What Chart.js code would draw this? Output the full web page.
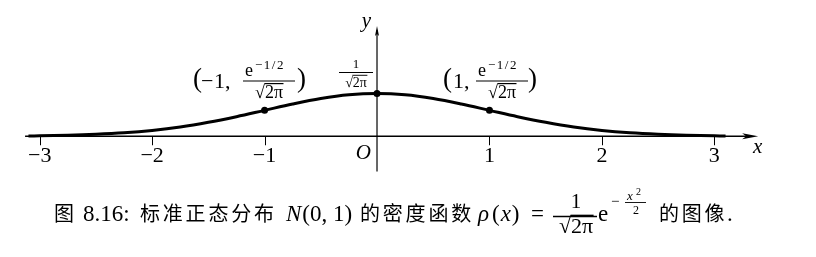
<!DOCTYPE html>
<html>
<head>
<meta charset="utf-8">
<script src="https://cdn.jsdelivr.net/npm/chart.js@4.4.0/dist/chart.umd.min.js"></script>
<style>
  html, body { margin: 0; padding: 0; background: #fff; }
  #wrap { width: 816px; height: 257px; }
</style>
</head>
<body>
<div id="wrap"><canvas id="densityChart" width="816" height="257"></canvas></div>
<script>
// curve values
const xVals = [-3.1, -3, -2.75, -2.5, -2.25, -2, -1.75, -1.5, -1.25, -1, -0.75, -0.5, -0.25, 0,
               0.25, 0.5, 0.75, 1, 1.25, 1.5, 1.75, 2, 2.25, 2.5, 2.75, 3, 3.1];
const yVals = [0.003, 0.004, 0.009, 0.018, 0.032, 0.054, 0.086, 0.130, 0.183, 0.242, 0.301, 0.352, 0.387, 0.399,
               0.387, 0.352, 0.301, 0.242, 0.183, 0.130, 0.086, 0.054, 0.032, 0.018, 0.009, 0.004, 0.003];
// marked points
const markX = [-1, 0, 1];
const markY = [0.242, 0.399, 0.242];
// x axis ticks
const tickVals = [-3, -2, -1, 1, 2, 3];
const tickLabels = ['\u22123', '\u22122', '\u22121', '1', '2', '3'];

const SERIF = '"Liberation Serif", "DejaVu Serif", serif';
const CJK = '"Noto Sans CJK SC", sans-serif';

function txt(ctx, s, x, y, font, align) {
  ctx.font = font;
  ctx.textAlign = align || 'left';
  ctx.textBaseline = 'alphabetic';
  ctx.fillText(s, x, y);
  return ctx.measureText(s).width;
}

function hline(ctx, x1, x2, y, lw) {
  ctx.beginPath();
  ctx.lineWidth = lw;
  ctx.moveTo(x1, y);
  ctx.lineTo(x2, y);
  ctx.stroke();
}

// draws "√2π" centred on cx
function sqrt2pi(ctx, cx, base, size) {
  ctx.font = size + 'px ' + SERIF;
  ctx.textAlign = 'left';
  const wr = ctx.measureText('\u221A').width;
  const wb = ctx.measureText('2\u03C0').width;
  const x0 = cx - (wr + wb) / 2;
  ctx.fillText('\u221A', x0, base);
  ctx.fillText('2\u03C0', x0 + wr, base);
  hline(ctx, x0 + wr - 0.5, x0 + wr + wb + 0.5, base - size * 0.8, Math.max(0.9, size / 15));
}

// numerator e^{-1/2} over √2π
function halfFrac(ctx, cx, lineY) {
  txt(ctx, 'e', cx - 24, lineY - 5, '18px ' + SERIF);
  ctx.letterSpacing = '1.5px';
  txt(ctx, '\u22121/2', cx - 14, lineY - 12, '13px ' + SERIF);
  ctx.letterSpacing = '0px';
  hline(ctx, cx - 26, cx + 26, lineY, 1.2);
  sqrt2pi(ctx, cx, lineY + 17, 18);
}

const axesPlugin = {
  id: 'axesPlugin',
  beforeDatasetsDraw(chart) {
    const ctx = chart.ctx;
    const xs = chart.scales.x, ys = chart.scales.y;
    const y0 = ys.getPixelForValue(0);
    const x0 = xs.getPixelForValue(0);
    ctx.save();
    ctx.strokeStyle = '#000';
    ctx.fillStyle = '#000';
    // x axis
    const xl = xs.getPixelForValue(-3.13), xr = xs.getPixelForValue(3.39);
    hline(ctx, xl, xr - 8, y0, 1.5);
    ctx.beginPath();
    ctx.moveTo(xr, y0);
    ctx.lineTo(xr - 16, y0 - 3);
    ctx.lineTo(xr - 12, y0);
    ctx.lineTo(xr - 16, y0 + 3);
    ctx.closePath();
    ctx.fill();
    // y axis
    const yt = ys.getPixelForValue(1.03), yb = ys.getPixelForValue(-0.33);
    ctx.beginPath();
    ctx.lineWidth = 1.2;
    ctx.moveTo(x0, yb);
    ctx.lineTo(x0, yt + 4);
    ctx.stroke();
    ctx.beginPath();
    ctx.moveTo(x0, yt);
    ctx.lineTo(x0 - 2, yt + 10);
    ctx.lineTo(x0, yt + 8);
    ctx.lineTo(x0 + 2, yt + 10);
    ctx.closePath();
    ctx.fill();
    // ticks
    ctx.lineWidth = 1;
    tickVals.forEach(v => {
      const px = Math.round(xs.getPixelForValue(v)) + 0.5;
      ctx.beginPath();
      ctx.moveTo(px, y0);
      ctx.lineTo(px, y0 + 9);
      ctx.stroke();
    });
    ctx.restore();
  },
  afterDraw(chart) {
    const ctx = chart.ctx;
    const xs = chart.scales.x, ys = chart.scales.y;
    const y0 = ys.getPixelForValue(0);
    const x0 = xs.getPixelForValue(0);
    ctx.save();
    ctx.fillStyle = '#000';
    ctx.strokeStyle = '#000';
    // tick labels
    tickVals.forEach((v, i) => {
      txt(ctx, tickLabels[i], xs.getPixelForValue(v), y0 + 26, '22px ' + SERIF, 'center');
    });
    txt(ctx, 'O', x0 - 6, y0 + 23, 'italic 21px ' + SERIF, 'right');
    txt(ctx, 'x', 753, y0 + 17, 'italic 21px ' + SERIF);
    txt(ctx, 'y', x0 - 6, 27, 'italic 21px ' + SERIF, 'right');

    // peak label 1/√2π
    const pk = xs.getPixelForValue(0) - 21;
    txt(ctx, '1', pk, 68, '13px ' + SERIF, 'center');
    hline(ctx, pk - 17, pk + 17, 72.5, 1.1);
    sqrt2pi(ctx, pk, 86.5, 14);

    // (−1, e^{-1/2}/√2π)
    txt(ctx, '(', 193, 87, '27px ' + SERIF);
    txt(ctx, '\u2212', 201, 88, '22px ' + SERIF);
    txt(ctx, '1,', 214, 88, '22px ' + SERIF);
    halfFrac(ctx, 269, 81);
    txt(ctx, ')', 297, 87, '27px ' + SERIF);

    // (1, e^{-1/2}/√2π)
    txt(ctx, '(', 443, 87, '27px ' + SERIF);
    txt(ctx, '1,', 453, 88, '22px ' + SERIF);
    halfFrac(ctx, 502, 81);
    txt(ctx, ')', 528, 87, '27px ' + SERIF);

    // caption
    const base = 221;
    txt(ctx, '\u56FE', 54, base, '20px ' + CJK);
    txt(ctx, '8.16:', 83, base, '23px ' + SERIF);
    ctx.letterSpacing = '2.8px';
    txt(ctx, '\u6807\u51C6\u6B63\u6001\u5206\u5E03', 140, base, '20px ' + CJK);
    ctx.letterSpacing = '0px';
    const w = txt(ctx, 'N', 286, base, 'italic 23px ' + SERIF);
    txt(ctx, '(0, 1)', 286 + w + 1, base, '23px ' + SERIF);
    ctx.letterSpacing = '2.8px';
    txt(ctx, '\u7684\u5BC6\u5EA6\u51FD\u6570', 360, base, '20px ' + CJK);
    ctx.letterSpacing = '0px';
    txt(ctx, '\u03C1', 478, base, 'italic 23px ' + SERIF);
    let cx = 492;
    cx += txt(ctx, '(', cx, base, '23px ' + SERIF) + 1;
    cx += txt(ctx, 'x', cx, base, 'italic 23px ' + SERIF) + 1;
    txt(ctx, ')', cx, base, '23px ' + SERIF);
    txt(ctx, '=', 531, base, '23px ' + SERIF);
    txt(ctx, '1', 576, 208, '21px ' + SERIF, 'center');
    hline(ctx, 553, 597, 216.5, 1.3);
    sqrt2pi(ctx, 576, 233, 22);
    txt(ctx, 'e', 598, base, '23px ' + SERIF);
    txt(ctx, '\u2212', 611, 206, '15px ' + SERIF);
    txt(ctx, 'x', 627, 200, 'italic 13px ' + SERIF);
    txt(ctx, '2', 636, 195, '10px ' + SERIF);
    hline(ctx, 625, 646, 202.5, 0.9);
    txt(ctx, '2', 636, 214, '12px ' + SERIF, 'center');
    ctx.letterSpacing = '2.8px';
    txt(ctx, '\u7684\u56FE\u50CF', 659, base, '20px ' + CJK);
    ctx.letterSpacing = '0px';
    txt(ctx, '.', 727, base, '23px ' + SERIF);
    ctx.restore();
  }
};

new Chart(document.getElementById('densityChart').getContext('2d'), {
  type: 'scatter',
  data: {
    datasets: [{
      label: 'density',
      data: xVals.map((x, i) => ({ x: x, y: yVals[i] })),
      showLine: true,
      borderColor: '#000',
      borderWidth: 3,
      pointRadius: 0,
      tension: 0.35,
      fill: false
    }, {
      label: 'marks',
      data: markX.map((x, i) => ({ x: x, y: markY[i] })),
      pointRadius: 3.5,
      backgroundColor: '#000',
      borderColor: '#000',
      borderWidth: 0
    }]
  },
  options: {
    responsive: false,
    animation: false,
    devicePixelRatio: 1,
    layout: { padding: 0 },
    plugins: {
      legend: { display: false },
      tooltip: { enabled: false }
    },
    scales: {
      x: { type: 'linear', display: false, min: -3.3175, max: 3.8688 },
      y: { type: 'linear', display: false, min: -1.0905, max: 1.2353 }
    }
  },
  plugins: [axesPlugin]
});
</script>
</body>
</html>
